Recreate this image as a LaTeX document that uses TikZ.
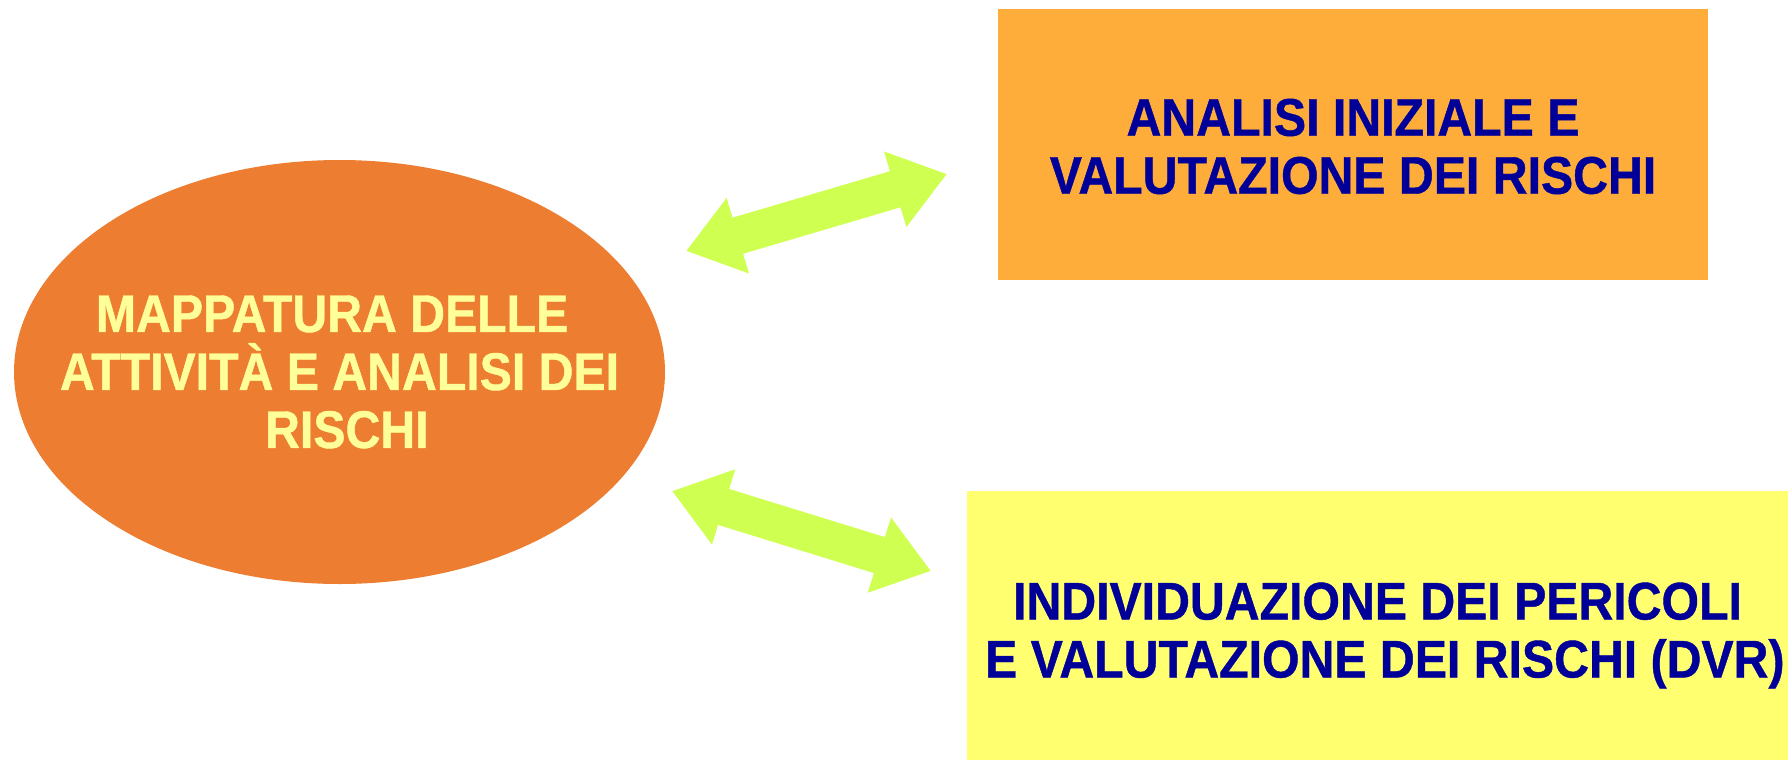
\documentclass[tikz,border=0pt]{standalone}
\usepackage{fontspec}
\newfontfamily\lab{Liberation Sans}[FakeStretch=0.91,FakeBold=0.8]
\usetikzlibrary{shapes.geometric,arrows.meta}
\definecolor{ellorange}{HTML}{ED7D31}
\definecolor{lighttext}{HTML}{FFFF99}
\definecolor{boxorange}{HTML}{FFAD3A}
\definecolor{boxyellow}{HTML}{FFFF6F}
\definecolor{darkblue}{HTML}{000099}
\definecolor{lime}{HTML}{CFFF50}
\begin{document}
\begin{tikzpicture}[x=1pt,y=-1pt,
  txt/.style={font=\lab\bfseries\fontsize{53}{58}\selectfont, align=center, inner sep=0pt},
  dblarrow/.style={draw=lime, line width=37.6pt, line cap=butt,
    {Triangle[width=75pt,length=54pt]}-{Triangle[width=75pt,length=54pt]}}]
\useasboundingbox (0,0) rectangle (1788,760);
\node[ellipse, fill=ellorange, minimum width=651pt, minimum height=424pt, inner sep=0pt] (mapshape) at (339.5,372) {};
\node[txt, text=lighttext] (map) at (mapshape.center)
  {MAPPATURA DELLE\kern0.278em\\ATTIVITÀ E ANALISI DEI\\\kern0.278em RISCHI};
\node[rectangle, fill=boxorange, minimum width=710pt, minimum height=271pt, inner sep=0pt] (anabox) at (1353,144.5) {};
\node[txt, text=darkblue] (ana) at (1353,146.5)
  {ANALISI INIZIALE E\\VALUTAZIONE DEI RISCHI};
\node[rectangle, fill=boxyellow, minimum width=821pt, minimum height=269pt, inner sep=0pt] (indbox) at (1377.5,625.5) {};
\node[txt, text=darkblue] (ind) at (1377.5,635.5)
  {INDIVIDUAZIONE DEI PERICOLI\\\kern0.278em E VALUTAZIONE DEI RISCHI (DVR)};
\coordinate (a1) at (686,251);
\coordinate (a2) at (947,174);
\coordinate (b1) at (672,491);
\coordinate (b2) at (931,571);
\draw[dblarrow] (a1) -- (a2);
\draw[dblarrow] (b1) -- (b2);
\end{tikzpicture}
\end{document}
